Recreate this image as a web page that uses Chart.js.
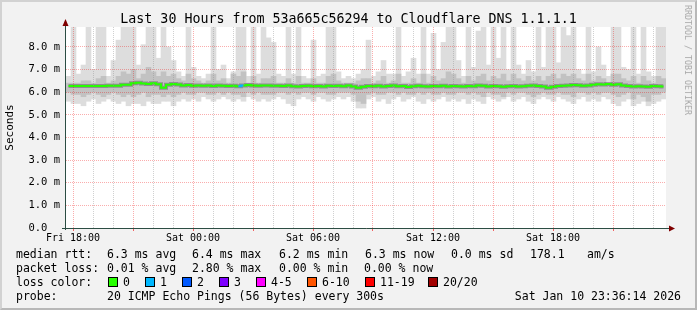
<!DOCTYPE html>
<html>
<head>
<meta charset="utf-8">
<script src="https://cdn.jsdelivr.net/npm/chart.js@4.4.1/dist/chart.umd.min.js"></script>
<style>
  body{margin:0;background:#fff}
  #wrap{position:relative;width:697px;height:310px;background:#f2f2f2;font-family:'DejaVu Sans Mono',monospace;color:#000;overflow:hidden}
  #c{position:absolute;left:0;top:0}
  .t{position:absolute;white-space:pre;font-size:11.5px;line-height:14px}
  #title{position:absolute;left:0;width:697px;top:10px;text-align:center;font-size:13.3px;line-height:18px;white-space:pre}
  #mark{position:absolute;left:688px;top:60px;font-size:8.3px;color:#a8a8a8;white-space:pre;transform:translate(-50%,-50%) rotate(90deg)}
  .sq{position:absolute;width:8px;height:8px;border:1px solid #000}
  #frame{position:absolute;left:0;top:0;width:697px;height:310px;box-sizing:border-box;border:2px solid;border-color:#d2d2d2 #b8b8b8 #b8b8b8 #d2d2d2;pointer-events:none}
</style>
</head>
<body>
<div id="wrap">
  <canvas id="c" width="697" height="310"></canvas>
  <div id="title">Last 30 Hours from 53a665c56294 to Cloudflare DNS 1.1.1.1</div>
  <div id="mark">RRDTOOL / TOBI OETIKER</div>
  <div id="legend"></div>
  <div id="frame"></div>
</div>
<script>
// --- data (ms), one value per 15 min bin ---
const startHour = -0.35;   // plot starts 21 min before Fri 18:00
const stepHours = 0.25;
const xLabels = ['Fri 18:00', 'Sat 00:00', 'Sat 06:00', 'Sat 12:00', 'Sat 18:00'];

// 9.5 = ran off the top of the graph
const pingMax = [
  6.7,9.5,6.8,7.2,9.5,7.0,9.5,9.5,6.7,7.4,
  8.3,9.5,9.5,9.5,7.2,8.1,9.5,9.5,7.5,9.5,
  8.0,7.4,6.9,6.7,9.5,7.1,6.7,6.6,6.8,9.5,
  7.0,7.2,6.6,6.9,9.5,9.5,6.7,9.5,6.8,9.5,
  8.4,8.2,6.8,6.7,9.5,6.8,9.5,6.7,6.6,8.3,
  6.7,6.8,9.5,9.5,6.9,6.6,6.7,6.6,6.8,7.0,
  8.3,6.7,6.9,7.4,6.8,6.8,9.5,6.7,6.9,7.5,
  6.8,9.5,6.8,8.6,7.0,8.2,9.5,9.5,7.4,6.7,
  9.5,7.1,8.7,9.5,7.2,9.5,7.5,9.5,7.0,9.5,
  7.2,6.8,7.4,6.9,9.5,7.1,9.5,9.5,7.3,9.5,
  8.5,9.5,7.0,6.8,9.5,6.9,8.0,7.2,6.7,9.5,
  9.5,7.1,7.0,9.5,6.8,9.5,6.9,6.7,9.5,9.5
];
const pingHi = [
  6.4,6.4,6.4,6.5,6.5,6.4,6.6,6.7,6.4,6.5,
  6.7,6.9,6.8,7.0,6.6,6.8,7.1,6.9,6.7,6.9,
  6.7,6.8,6.6,6.5,6.8,6.6,6.5,6.4,6.5,6.8,
  6.5,6.6,6.4,6.8,6.7,6.9,6.4,6.7,6.4,6.6,
  6.6,6.7,6.4,6.4,6.6,6.4,6.7,6.4,6.4,6.6,
  6.4,6.4,6.7,6.8,6.5,6.4,6.4,6.4,6.5,6.6,
  6.6,6.4,6.5,6.7,6.4,6.5,6.8,6.4,6.4,6.6,
  6.4,6.8,6.4,6.7,6.5,6.6,6.9,6.8,6.6,6.4,
  6.7,6.5,6.7,6.8,6.5,6.7,6.6,6.8,6.5,6.8,
  6.6,6.5,6.7,6.5,6.7,6.5,6.7,6.8,6.6,6.8,
  6.7,6.8,6.6,6.5,6.8,6.5,6.7,6.6,6.4,6.8,
  6.8,6.6,6.5,6.7,6.4,6.7,6.5,6.4,6.7,6.6
];
const pingLo = [
  6.0,5.9,5.9,5.8,5.9,6.0,5.9,5.8,5.9,6.0,
  5.9,5.8,5.9,5.8,5.9,6.0,5.8,5.9,5.9,5.8,
  5.9,5.8,5.9,6.0,5.9,5.9,6.0,6.0,5.9,5.9,
  6.0,5.9,6.0,5.9,5.9,5.8,6.0,5.9,6.0,5.9,
  5.9,5.9,6.0,6.0,5.9,6.0,5.9,6.0,6.0,5.9,
  6.0,6.0,5.9,5.9,6.0,6.0,6.0,5.9,5.6,5.5,
  5.9,6.0,5.9,5.9,6.0,6.0,5.9,6.0,5.9,5.9,
  6.0,5.9,6.0,5.9,5.9,6.0,5.9,5.9,6.0,6.0,
  5.9,6.0,5.9,5.8,6.0,5.9,5.9,5.8,6.0,5.9,
  6.0,6.0,5.9,5.8,5.9,6.0,5.9,5.9,6.0,5.9,
  5.9,5.8,6.0,6.0,5.9,6.0,5.9,6.0,6.0,5.9,
  5.8,5.9,6.0,5.7,5.9,5.8,5.6,5.9,5.9,6.0
];
const pingMin = [
  5.6,5.5,5.5,5.4,5.6,5.7,5.5,5.6,5.7,5.6,
  5.5,5.6,5.4,5.5,5.5,5.4,5.6,5.5,5.5,5.6,
  5.6,5.4,5.6,5.7,5.6,5.7,5.6,5.8,5.7,5.6,
  5.7,5.8,5.7,5.6,5.7,5.6,5.8,5.7,5.6,5.7,
  5.6,5.7,5.8,5.7,5.5,5.4,5.7,5.8,5.7,5.6,
  5.8,5.7,5.6,5.7,5.8,5.7,5.8,5.6,5.3,5.3,
  5.7,5.8,5.6,5.7,5.5,5.7,5.8,5.6,5.7,5.8,
  5.6,5.5,5.7,5.6,5.7,5.8,5.6,5.7,5.6,5.7,
  5.5,5.7,5.6,5.5,5.8,5.7,5.6,5.7,5.8,5.6,
  5.7,5.8,5.6,5.5,5.7,5.8,5.7,5.6,5.8,5.7,
  5.6,5.5,5.7,5.8,5.6,5.7,5.6,5.8,5.7,5.5,
  5.4,5.6,5.7,5.4,5.5,5.6,5.4,5.5,5.6,5.7
];
const median = [
  6.27,6.27,6.27,6.27,6.27,6.27,6.27,6.27,6.28,6.28,
  6.28,6.33,6.33,6.40,6.42,6.38,6.36,6.40,6.35,6.20,
  6.33,6.36,6.34,6.30,6.32,6.28,6.30,6.29,6.30,6.27,
  6.30,6.28,6.27,6.28,6.26,6.30,6.32,6.30,6.28,6.30,
  6.30,6.28,6.29,6.27,6.30,6.26,6.25,6.27,6.28,6.26,
  6.27,6.25,6.28,6.27,6.29,6.26,6.30,6.25,6.20,6.24,
  6.27,6.26,6.28,6.25,6.27,6.30,6.26,6.27,6.23,6.26,
  6.28,6.26,6.25,6.27,6.26,6.28,6.25,6.27,6.26,6.25,
  6.27,6.26,6.30,6.28,6.25,6.27,6.26,6.24,6.26,6.27,
  6.25,6.26,6.28,6.30,6.27,6.25,6.20,6.24,6.27,6.28,
  6.30,6.32,6.31,6.28,6.30,6.33,6.35,6.34,6.36,6.33,
  6.35,6.30,6.27,6.25,6.26,6.25,6.24,6.27,6.26,6.25
];
// lost pings per bin (out of 20)
const loss = [
  0,0,0,0,0,0,0,0,0,0, 0,0,0,0,0,0,0,0,0,0,
  0,0,0,0,0,0,0,0,0,0, 0,0,0,0,1,0,0,0,0,0,
  0,0,0,0,0,0,0,0,0,0, 0,0,0,0,0,0,0,0,0,0,
  0,0,0,0,0,0,0,0,0,0, 0,0,0,0,0,0,0,0,0,0,
  0,0,0,0,0,0,0,0,0,0, 0,0,0,0,0,0,0,0,0,0,
  0,0,0,0,0,0,0,0,0,0, 0,0,0,0,0,0,0,0,0,0
];

// legend texts
const rttStats = ['6.3 ms avg', '6.4 ms max', '6.2 ms min', '6.3 ms now', '0.0 ms sd', '178.1', 'am/s'];
const rttX = [107, 192, 279, 365, 451, 530, 587];
const lossStats = ['0.01 % avg', '2.80 % max', '0.00 % min', '0.00 % now'];
const lossX = [107, 192, 279, 364];
const lossLabels = ['0', '1', '2', '3', '4-5', '6-10', '11-19', '20/20'];
const lossColors = ['#26ff00', '#00b8ff', '#0059ff', '#7e00ff', '#ff00ff', '#ff5500', '#ff0000', '#a10000'];
const lossSqX = [108, 145, 182, 219, 256, 307, 365, 428];
const probeText = '20 ICMP Echo Pings (56 Bytes) every 300s';
const stampText = 'Sat Jan 10 23:36:14 2026';

function colorForLoss(n){
  if(n <= 0) return lossColors[0];
  if(n === 1) return lossColors[1];
  if(n === 2) return lossColors[2];
  if(n === 3) return lossColors[3];
  if(n <= 5) return lossColors[4];
  if(n <= 10) return lossColors[5];
  if(n <= 19) return lossColors[6];
  return lossColors[7];
}

// --- legend (html text) ---
const legend = document.getElementById('legend');
function put(text, x, y, extra){
  const d = document.createElement('div');
  d.className = 't';
  d.style.left = x + 'px';
  d.style.top = y + 'px';
  if(extra) Object.assign(d.style, extra);
  d.textContent = text;
  legend.appendChild(d);
}
put('median rtt:', 16, 247);
rttStats.forEach((s,i)=>put(s, rttX[i], 247));
put('packet loss:', 16, 261);
lossStats.forEach((s,i)=>put(s, lossX[i], 261));
put('loss color:', 16, 275);
lossLabels.forEach((s,i)=>{
  const q = document.createElement('div');
  q.className = 'sq';
  q.style.left = lossSqX[i] + 'px';
  q.style.top = '277px';
  q.style.background = lossColors[i];
  legend.appendChild(q);
  put(s, lossSqX[i] + 15, 275);
});
put('probe:', 16, 289);
put(probeText, 107, 289);
put(stampText, 0, 289, {left:'auto', right:'16px'});

// --- chart ---
const xs = median.map((_, i) => startHour + stepHours/2 + stepHours*i);
const pair = (lo, hi) => xs.map((x, i) => ({x, y:[lo[i], hi[i]]}));

const gridMajor = 'rgba(240,0,0,0.32)';
const gridMinor = 'rgba(143,143,143,0.42)';

const plotBg = {
  id:'plotBg',
  beforeDraw(chart){
    const a = chart.chartArea, c = chart.ctx;
    c.save(); c.fillStyle = '#fff'; c.fillRect(a.left, a.top, a.right-a.left, a.bottom-a.top); c.restore();
  },
  afterDraw(chart){
    // rrdtool style axes with arrows
    const a = chart.chartArea, c = chart.ctx;
    c.save();
    c.strokeStyle = '#2c4d43'; c.lineWidth = 1;
    c.beginPath();
    c.moveTo(a.left - 0.5, a.bottom + 2); c.lineTo(a.left - 0.5, a.top - 5);
    c.moveTo(a.left - 4, a.bottom + 0.5); c.lineTo(a.right + 5, a.bottom + 0.5);
    c.stroke();
    c.fillStyle = '#7f0000';
    c.beginPath();
    c.moveTo(a.left - 3.5, a.top - 1); c.lineTo(a.left + 2.5, a.top - 1); c.lineTo(a.left - 0.5, a.top - 8); c.closePath(); c.fill();
    c.beginPath();
    c.moveTo(a.right + 3, a.bottom - 2.5); c.lineTo(a.right + 3, a.bottom + 3.5); c.lineTo(a.right + 9, a.bottom + 0.5); c.closePath(); c.fill();
    c.restore();
  }
};

new Chart(document.getElementById('c'), {
  type:'bar',
  data:{
    datasets:[
      {type:'line', data:xs.map((x,i)=>({x, y:median[i]})), order:1, borderWidth:2, pointRadius:0,
       stepped:'middle', clip:0,
       segment:{borderColor: ctx => colorForLoss(loss[ctx.p0DataIndex])}, borderColor:lossColors[0]},
      {type:'line', data:xs.map((x,i)=>({x, y:median[i]})), order:2, borderWidth:4, pointRadius:0,
       stepped:'middle', clip:0, borderColor:'rgba(50,50,50,0.35)'},
      {data:pair(pingLo, pingHi), order:3, backgroundColor:'#c2c2c2', grouped:false,
       barPercentage:1, categoryPercentage:1, borderWidth:0, borderSkipped:false, clip:0},
      {data:pair(pingMin, pingMax), order:4, backgroundColor:'#dddddd', grouped:false,
       barPercentage:1, categoryPercentage:1, borderWidth:0, borderSkipped:false, clip:0}
    ]
  },
  options:{
    responsive:false, animation:false, devicePixelRatio:1,
    layout:{padding:{left:0, top:27, right:31, bottom:62}},
    plugins:{legend:{display:false}, tooltip:{enabled:false}, title:{display:false}},
    scales:{
      x:{
        type:'linear', min:startHour, max:startHour + stepHours*median.length,
        offset:false,
        afterBuildTicks(s){ s.ticks = []; for(let h=0; h<30; h++) s.ticks.push({value:h}); },
        afterFit(s){ s.height = 20; },
        ticks:{autoSkip:false, maxRotation:0, padding:1, color:'#000',
          font:{family:'DejaVu Sans Mono', size:10},
          callback:v => v % 6 === 0 ? xLabels[v/6] : ''},
        grid:{offset:false, z:1, color:c => c.tick.value % 3 === 0 ? gridMajor : gridMinor,
          tickLength:3, tickColor:c => c.tick.value % 3 === 0 ? 'rgba(240,0,0,0.6)' : 'rgba(0,0,0,0)'},
        border:{display:false, dash:[1,1]}
      },
      y:{
        min:0, max:8.88,
        afterBuildTicks(s){ s.ticks = []; for(let k=0; k<=17; k++) s.ticks.push({value:k/2}); },
        afterFit(s){ s.width = 66; },
        ticks:{padding:6, color:'#000', font:{family:'DejaVu Sans Mono', size:10.5},
          callback:v => v % 1 === 0 ? v.toFixed(1) + (v === 0 ? '  ' : ' m') : ''},
        grid:{z:1, color:c => c.tick.value % 1 === 0 ? gridMajor : gridMinor, drawTicks:false},
        border:{display:false, dash:[1,1]},
        title:{display:true, text:'Seconds', color:'#000', padding:{top:4, bottom:0},
          font:{family:'DejaVu Sans Mono', size:11}}
      }
    }
  },
  plugins:[plotBg]
});
</script>
</body>
</html>
